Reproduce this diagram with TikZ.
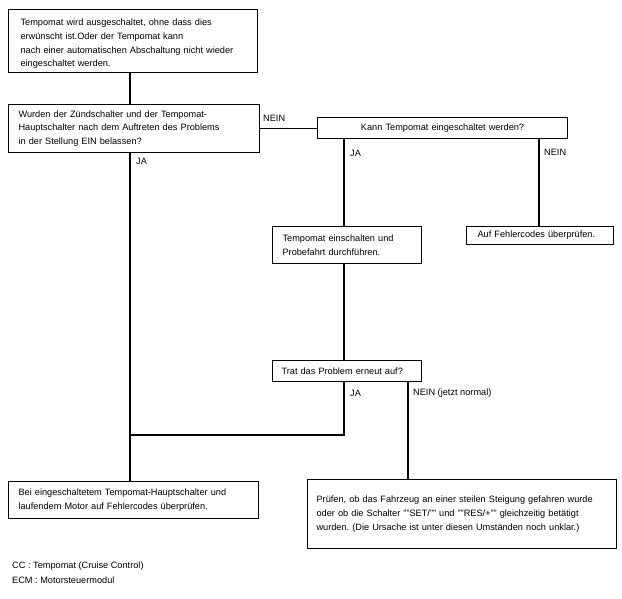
\documentclass[tikz,border=0pt]{standalone}
\usepackage{fontspec}
\setmainfont{Liberation Sans}
\frenchspacing
\begin{document}
\begin{tikzpicture}[x=1pt,y=-1pt,
  every node/.style={font=\fontsize{9.2}{13.6}\selectfont},
  box/.style={draw=black,line width=1.1pt,anchor=north west,inner ysep=0pt,align=left},
  cbox/.style={draw=black,line width=1.1pt,anchor=north west,inner ysep=0pt,align=center},
  conn/.style={draw=black,line width=1.1pt},
  lab/.style={anchor=west,inner sep=0pt}]
\useasboundingbox (0,0) rectangle (622,599);
\fill[white] (0,0) rectangle (622,599);

\node[box,inner xsep=12pt,text width=225pt,minimum height=63pt] (b1) at (8,9)
 {\rule{0pt}{12.5pt}Tempomat wird ausgeschaltet, ohne dass dies\\erwünscht ist.Oder der Tempomat kann\\nach einer automatischen Abschaltung nicht wieder\\eingeschaltet werden.};
\node[box,inner xsep=10pt,text width=231pt,minimum height=48pt] (b2) at (8,104)
 {Wurden der Zündschalter und der Tempomat-\\Hauptschalter nach dem Auftreten des Problems\\in der Stellung EIN belassen?};
\node[cbox,inner xsep=0pt,text width=250pt,minimum height=21pt] (kann) at (317,117)
 {Kann Tempomat eingeschaltet werden?};
\node[box,inner xsep=10pt,text width=129pt,minimum height=37pt] (temp) at (272,226)
 {Tempomat einschalten und\\Probefahrt durchführen.};
\node[box,inner xsep=11pt,text width=125pt,minimum height=18pt] (auf) at (466,226)
 {Auf Fehlercodes überprüfen.};
\node[box,inner xsep=9pt,text width=131pt,minimum height=21pt] (trat) at (272,360)
 {Trat das Problem erneut auf?};
\node[box,inner xsep=10pt,text width=230pt,minimum height=37pt] (bei) at (8,481)
 {Bei eingeschaltetem Tempomat-Hauptschalter und\\laufendem Motor auf Fehlercodes überprüfen.};
\node[box,inner xsep=9pt,text width=291pt,minimum height=69pt] (pruef) at (307,479)
 {Prüfen, ob das Fahrzeug an einer steilen Steigung gefahren wurde\\oder ob die Schalter ""SET/"" und ""RES/+"" gleichzeitig betätigt\\wurden. (Die Ursache ist unter diesen Umständen noch unklar.)};

\coordinate (xL) at (130,0);
\coordinate (xJ) at (344,0);
\coordinate (xN) at (539,0);
\coordinate (xP) at (408,0);
\coordinate (join) at (344,435);

\draw[conn] (xL |- b1.south) -- (xL |- b2.north);
\draw[conn] (b2.east) -- (b2.east -| kann.west);
\draw[conn] (xJ |- kann.south) -- (xJ |- temp.north);
\draw[conn] (xN |- kann.south) -- (xN |- auf.north);
\draw[conn] (xJ |- temp.south) -- (xJ |- trat.north);
\draw[conn] (xJ |- trat.south) -- (join) -- (xL |- join);
\draw[conn] (xL |- b2.south) -- (xL |- bei.north);
\draw[conn] (xP |- trat.south) -- (xP |- pruef.north);

\node[lab] (l1) at (263,118) {NEIN};
\node[lab] (l2) at (136,161) {JA};
\node[lab] (l3) at (350,153) {JA};
\node[lab] (l4) at (544,152) {NEIN};
\node[lab] (l5) at (350,393) {JA};
\node[lab] (l6) at (413,393) {NEIN (jetzt normal)};

\node[lab] (f1) at (12,566) {CC : Tempomat (Cruise Control)};
\node[lab] (f2) at (12,580) {ECM : Motorsteuermodul};
\end{tikzpicture}
\end{document}
